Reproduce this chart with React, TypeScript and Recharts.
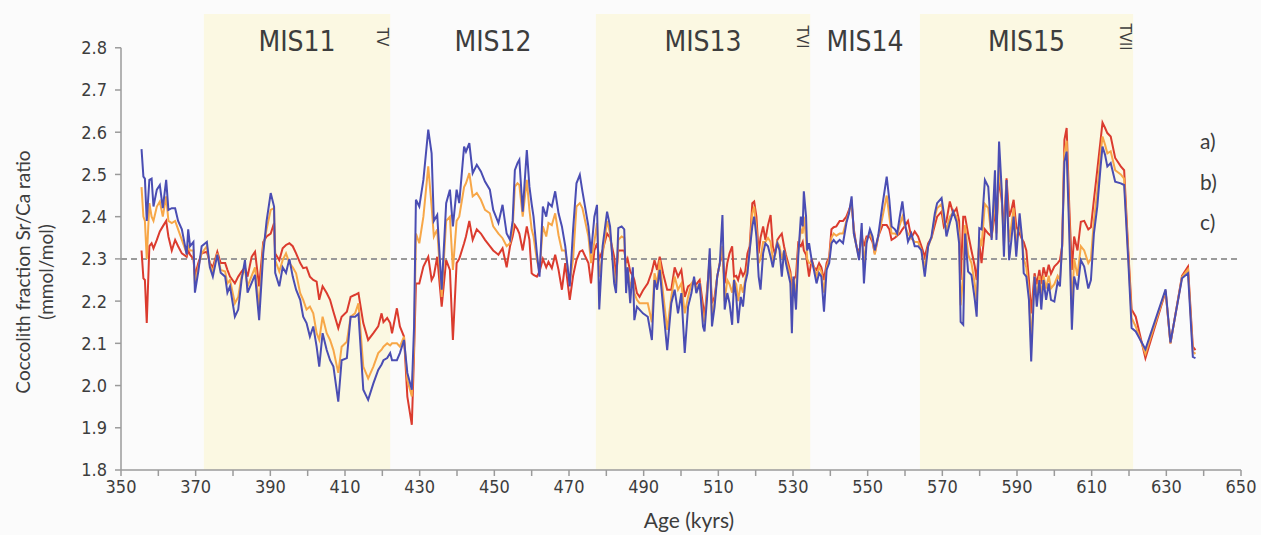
import React from 'react';
import { LineChart, Line, XAxis, YAxis, ReferenceArea, ReferenceLine } from 'recharts';

// Age (kyrs) of each sample
const ages = [
  355.5, 356.0, 356.4, 356.9, 357.6, 358.2, 358.7, 359.6, 360.4, 361.2, 362.1, 362.7, 363.6, 364.5, 365.3, 366.3, 367.6, 368.0, 368.5, 369.4,
  369.8, 370.7, 371.6, 373.0, 373.8, 374.6, 375.8, 376.7, 377.9, 378.5, 379.2, 380.5, 381.4, 382.3, 383.2, 383.9, 385.0, 385.9, 387.0, 388.1,
  389.0, 390.1, 391.0, 391.3, 392.4, 393.3, 394.2, 395.1, 396.0, 396.9, 398.0, 398.8, 399.7, 400.6, 401.5, 402.4, 403.1, 404.0, 405.1, 406.0,
  406.9, 408.2, 409.1, 410.5, 411.5, 412.7, 413.6, 414.9, 416.2, 417.6, 418.9, 419.8, 420.3, 421.3, 422.1, 422.6, 423.9, 424.7, 425.8, 426.7,
  427.9, 428.5, 429.0, 429.9, 431.0, 432.3, 433.2, 433.8, 434.7, 435.9, 437.1, 438.1, 438.9, 439.9, 440.6, 441.9, 442.4, 443.3, 444.2, 445.3,
  446.4, 447.5, 448.8, 449.7, 451.1, 452.2, 453.3, 454.2, 454.9, 455.5, 456.2, 456.7, 457.6, 458.7, 459.4, 460.0, 460.5, 461.4, 462.1, 463.0,
  463.9, 464.5, 465.4, 466.3, 467.2, 468.1, 469.0, 470.2, 471.1, 472.0, 472.9, 473.6, 475.2, 475.9, 476.8, 477.5, 478.1, 479.0, 480.2, 481.0,
  482.1, 482.6, 483.2, 484.1, 484.8, 485.3, 485.7, 486.4, 487.1, 487.5, 488.2, 488.9, 489.8, 491.1, 492.2, 492.9, 493.6, 494.3, 495.2, 496.3,
  497.4, 498.3, 499.2, 500.1, 501.0, 501.9, 502.8, 503.5, 504.1, 505.0, 505.9, 506.3, 507.0, 507.7, 508.3, 509.0, 509.7, 510.4, 511.1, 511.7,
  512.4, 513.0, 513.7, 514.2, 514.8, 515.3, 516.0, 516.6, 517.2, 517.8, 518.4, 519.1, 519.6, 520.2, 520.8, 521.3, 522.0, 522.6, 523.3, 524.0,
  524.6, 525.2, 525.8, 526.4, 527.0, 527.6, 528.1, 528.7, 529.3, 529.7, 530.1, 530.8, 531.4, 532.1, 532.6, 532.9, 533.5, 533.8, 534.3, 535.0,
  535.6, 536.3, 537.0, 537.6, 538.3, 539.0, 539.7, 540.3, 540.9, 541.6, 542.5, 543.4, 544.3, 545.0, 545.7, 546.3, 547.0, 547.7, 548.4, 549.0,
  549.7, 550.6, 551.3, 551.9, 552.8, 554.0, 555.1, 555.8, 556.4, 557.3, 557.9, 558.6, 559.3, 559.9, 560.8, 561.7, 562.6, 563.5, 564.4, 565.3,
  566.2, 567.1, 568.0, 568.6, 569.8, 570.4, 571.1, 572.0, 572.9, 573.8, 574.5, 574.9, 575.6, 576.1, 576.9, 577.8, 578.7, 579.2, 579.9, 580.5,
  581.4, 582.3, 583.2, 584.1, 584.5, 585.2, 585.9, 586.5, 587.2, 587.9, 588.5, 589.1, 589.8, 590.7, 591.4, 591.8, 592.5, 593.2, 593.8, 594.7,
  595.3, 596.0, 596.5, 597.1, 597.8, 598.5, 599.1, 600.0, 600.9, 601.5, 602.1, 602.7, 603.3, 604.0, 604.7, 605.3, 606.2, 607.1, 608.0, 609.1,
  609.8, 610.6, 611.5, 612.4, 612.9, 613.6, 614.2, 615.1, 616.3, 617.8, 618.7, 619.8, 620.7, 621.8, 624.4, 629.8, 631.1, 634.2, 635.8, 637.1,
  637.8,
];

// a) red series
const seriesA = [
  2.32, 2.254, 2.25, 2.148, 2.33, 2.337, 2.325, 2.345, 2.365, 2.377, 2.39, 2.353, 2.32, 2.345, 2.33, 2.313, 2.305, 2.32, 2.31, 2.3,
  2.26, 2.29, 2.313, 2.317, 2.29, 2.28, 2.317, 2.29, 2.29, 2.274, 2.258, 2.242, 2.258, 2.27, 2.28, 2.258, 2.305, 2.317, 2.235, 2.34,
  2.353, 2.36, 2.385, 2.313, 2.297, 2.325, 2.333, 2.337, 2.33, 2.313, 2.29, 2.278, 2.28, 2.258, 2.25, 2.246, 2.203, 2.235, 2.219, 2.203,
  2.175, 2.136, 2.163, 2.175, 2.21, 2.215, 2.219, 2.148, 2.108, 2.124, 2.14, 2.171, 2.15, 2.16, 2.148, 2.124, 2.183, 2.14, 2.116, 1.974,
  1.907, 2.077, 2.242, 2.242, 2.282, 2.305, 2.25, 2.26, 2.305, 2.187, 2.297, 2.274, 2.108, 2.29, 2.3, 2.337, 2.353, 2.39, 2.345, 2.37,
  2.36, 2.345, 2.33, 2.32, 2.31, 2.325, 2.28, 2.33, 2.353, 2.38, 2.37, 2.36, 2.32, 2.377, 2.345, 2.266, 2.262, 2.258, 2.27, 2.3,
  2.28, 2.293, 2.278, 2.31, 2.274, 2.227, 2.29, 2.203, 2.26, 2.297, 2.317, 2.32, 2.29, 2.242, 2.32, 2.337, 2.3, 2.32, 2.36, 2.35,
  2.305, 2.258, 2.32, 2.32, 2.32, 2.29, 2.3, 2.27, 2.26, 2.25, 2.219, 2.21, 2.225, 2.242, 2.27, 2.297, 2.274, 2.305, 2.266, 2.227,
  2.227, 2.28, 2.258, 2.274, 2.21, 2.235, 2.24, 2.242, 2.24, 2.25, 2.19, 2.163, 2.227, 2.297, 2.195, 2.21, 2.258, 2.29, 2.313, 2.242,
  2.29, 2.313, 2.33, 2.258, 2.26, 2.25, 2.274, 2.26, 2.27, 2.313, 2.33, 2.432, 2.436, 2.4, 2.313, 2.35, 2.377, 2.345, 2.38, 2.404,
  2.33, 2.31, 2.345, 2.353, 2.36, 2.33, 2.31, 2.29, 2.27, 2.235, 2.25, 2.26, 2.337, 2.33, 2.34, 2.32, 2.31, 2.29, 2.258, 2.3,
  2.28, 2.274, 2.29, 2.28, 2.25, 2.29, 2.305, 2.37, 2.375, 2.377, 2.39, 2.39, 2.4, 2.416, 2.432, 2.37, 2.33, 2.313, 2.353, 2.33,
  2.353, 2.353, 2.34, 2.313, 2.353, 2.38, 2.38, 2.37, 2.345, 2.35, 2.355, 2.36, 2.37, 2.377, 2.39, 2.35, 2.365, 2.353, 2.33, 2.305,
  2.337, 2.35, 2.38, 2.4, 2.412, 2.377, 2.39, 2.436, 2.408, 2.42, 2.39, 2.25, 2.4, 2.4, 2.36, 2.32, 2.282, 2.25, 2.337, 2.29,
  2.37, 2.36, 2.353, 2.408, 2.38, 2.491, 2.44, 2.37, 2.491, 2.4, 2.416, 2.44, 2.377, 2.36, 2.345, 2.34, 2.32, 2.25, 2.171, 2.266,
  2.24, 2.274, 2.24, 2.28, 2.258, 2.286, 2.265, 2.282, 2.29, 2.297, 2.33, 2.582, 2.61, 2.424, 2.274, 2.353, 2.32, 2.388, 2.39, 2.37,
  2.375, 2.44, 2.51, 2.582, 2.623, 2.61, 2.598, 2.59, 2.539, 2.519, 2.51, 2.32, 2.18, 2.163, 2.065, 2.223, 2.1, 2.26, 2.282, 2.092,
  2.084,
];

// b) orange series
const seriesB = [
  2.47, 2.4, 2.39, 2.3, 2.432, 2.4, 2.39, 2.424, 2.436, 2.4, 2.448, 2.39, 2.385, 2.39, 2.37, 2.345, 2.313, 2.33, 2.32, 2.32,
  2.24, 2.28, 2.313, 2.33, 2.285, 2.27, 2.313, 2.274, 2.27, 2.242, 2.25, 2.195, 2.21, 2.26, 2.274, 2.235, 2.26, 2.28, 2.187, 2.33,
  2.37, 2.416, 2.42, 2.297, 2.27, 2.297, 2.313, 2.29, 2.28, 2.266, 2.219, 2.203, 2.18, 2.187, 2.171, 2.124, 2.108, 2.163, 2.124, 2.108,
  2.084, 2.03, 2.092, 2.104, 2.163, 2.171, 2.195, 2.045, 2.017, 2.045, 2.077, 2.085, 2.092, 2.1, 2.095, 2.1, 2.1, 2.092, 2.116, 2.013,
  1.974, 2.092, 2.36, 2.337, 2.4, 2.519, 2.424, 2.353, 2.37, 2.21, 2.39, 2.4, 2.274, 2.39, 2.4, 2.47, 2.479, 2.503, 2.448, 2.456,
  2.44, 2.416, 2.408, 2.377, 2.36, 2.349, 2.33, 2.337, 2.37, 2.471, 2.479, 2.475, 2.4, 2.487, 2.416, 2.37, 2.353, 2.297, 2.27, 2.377,
  2.353, 2.385, 2.38, 2.408, 2.356, 2.32, 2.32, 2.242, 2.3, 2.424, 2.432, 2.42, 2.353, 2.29, 2.34, 2.385, 2.258, 2.31, 2.39, 2.36,
  2.266, 2.23, 2.345, 2.353, 2.35, 2.26, 2.28, 2.235, 2.25, 2.219, 2.203, 2.195, 2.195, 2.195, 2.15, 2.266, 2.24, 2.297, 2.219, 2.132,
  2.21, 2.258, 2.227, 2.242, 2.171, 2.21, 2.242, 2.25, 2.23, 2.24, 2.163, 2.15, 2.22, 2.31, 2.163, 2.2, 2.258, 2.29, 2.33, 2.2,
  2.25, 2.24, 2.22, 2.25, 2.24, 2.2, 2.24, 2.22, 2.25, 2.28, 2.32, 2.408, 2.424, 2.37, 2.29, 2.3, 2.34, 2.34, 2.35, 2.34,
  2.3, 2.31, 2.34, 2.33, 2.3, 2.32, 2.3, 2.28, 2.26, 2.19, 2.25, 2.22, 2.32, 2.37, 2.36, 2.4, 2.35, 2.3, 2.29, 2.29,
  2.28, 2.26, 2.28, 2.27, 2.22, 2.28, 2.3, 2.35, 2.36, 2.355, 2.36, 2.36, 2.39, 2.41, 2.44, 2.36, 2.33, 2.3, 2.37, 2.29,
  2.345, 2.36, 2.345, 2.31, 2.35, 2.4, 2.45, 2.4, 2.36, 2.36, 2.355, 2.38, 2.4, 2.38, 2.36, 2.35, 2.34, 2.34, 2.32, 2.28,
  2.33, 2.35, 2.4, 2.42, 2.43, 2.39, 2.37, 2.4, 2.41, 2.4, 2.36, 2.19, 2.26, 2.38, 2.31, 2.29, 2.24, 2.2, 2.35, 2.33,
  2.43, 2.42, 2.35, 2.45, 2.36, 2.52, 2.45, 2.33, 2.48, 2.34, 2.38, 2.42, 2.34, 2.38, 2.345, 2.3, 2.28, 2.22, 2.1, 2.26,
  2.21, 2.26, 2.21, 2.26, 2.23, 2.26, 2.23, 2.24, 2.26, 2.25, 2.33, 2.55, 2.58, 2.39, 2.18, 2.3, 2.26, 2.33, 2.32, 2.29,
  2.3, 2.39, 2.46, 2.55, 2.59, 2.57, 2.55, 2.555, 2.51, 2.5, 2.49, 2.31, 2.16, 2.14, 2.075, 2.225, 2.1, 2.257, 2.275, 2.08,
  2.075,
];

// c) blue series
const seriesC = [
  2.56, 2.495, 2.49, 2.39, 2.487, 2.49, 2.424, 2.464, 2.475, 2.42, 2.487, 2.416, 2.42, 2.42, 2.39, 2.37, 2.31, 2.37, 2.33, 2.34,
  2.22, 2.27, 2.33, 2.34, 2.28, 2.258, 2.31, 2.267, 2.258, 2.22, 2.235, 2.163, 2.18, 2.25, 2.297, 2.22, 2.243, 2.262, 2.155, 2.313,
  2.39, 2.456, 2.424, 2.267, 2.235, 2.28, 2.267, 2.3, 2.258, 2.227, 2.203, 2.163, 2.148, 2.116, 2.14, 2.092, 2.045, 2.124, 2.084, 2.06,
  2.045, 1.962, 2.06, 2.065, 2.163, 2.163, 2.17, 1.99, 1.966, 2.005, 2.037, 2.05, 2.06, 2.065, 2.077, 2.06, 2.06, 2.077, 2.108, 2.03,
  1.99, 2.14, 2.44, 2.424, 2.487, 2.606, 2.55, 2.39, 2.404, 2.227, 2.432, 2.464, 2.377, 2.464, 2.432, 2.566, 2.554, 2.574, 2.503, 2.523,
  2.507, 2.483, 2.464, 2.416, 2.385, 2.428, 2.36, 2.345, 2.39, 2.51, 2.527, 2.535, 2.412, 2.558, 2.471, 2.43, 2.4, 2.313, 2.258, 2.424,
  2.4, 2.432, 2.424, 2.46, 2.408, 2.377, 2.33, 2.235, 2.37, 2.479, 2.499, 2.46, 2.377, 2.313, 2.4, 2.428, 2.18, 2.33, 2.412, 2.377,
  2.242, 2.219, 2.373, 2.377, 2.37, 2.219, 2.28, 2.195, 2.28, 2.155, 2.187, 2.18, 2.171, 2.163, 2.108, 2.25, 2.227, 2.274, 2.187, 2.084,
  2.195, 2.227, 2.171, 2.219, 2.077, 2.187, 2.219, 2.258, 2.219, 2.242, 2.14, 2.128, 2.21, 2.325, 2.14, 2.187, 2.258, 2.29, 2.404, 2.18,
  2.219, 2.195, 2.144, 2.25, 2.21, 2.148, 2.21, 2.187, 2.242, 2.266, 2.32, 2.377, 2.4, 2.353, 2.258, 2.227, 2.313, 2.337, 2.33, 2.305,
  2.28, 2.313, 2.337, 2.32, 2.258, 2.32, 2.29, 2.266, 2.242, 2.124, 2.258, 2.18, 2.305, 2.4, 2.377, 2.46, 2.4, 2.32, 2.337, 2.297,
  2.274, 2.242, 2.266, 2.258, 2.175, 2.274, 2.29, 2.337, 2.345, 2.337, 2.345, 2.337, 2.385, 2.408, 2.448, 2.36, 2.33, 2.297, 2.385, 2.242,
  2.337, 2.37, 2.353, 2.32, 2.353, 2.43, 2.495, 2.44, 2.377, 2.37, 2.36, 2.4, 2.436, 2.39, 2.341, 2.36, 2.33, 2.33, 2.32, 2.258,
  2.33, 2.353, 2.408, 2.432, 2.444, 2.408, 2.353, 2.385, 2.412, 2.388, 2.337, 2.151, 2.144, 2.36, 2.27, 2.262, 2.203, 2.163, 2.373, 2.37,
  2.487, 2.471, 2.345, 2.51, 2.345, 2.578, 2.464, 2.305, 2.487, 2.297, 2.345, 2.4, 2.305, 2.408, 2.345, 2.266, 2.258, 2.203, 2.057, 2.258,
  2.187, 2.25, 2.18, 2.25, 2.203, 2.242, 2.203, 2.199, 2.246, 2.235, 2.337, 2.53, 2.554, 2.36, 2.132, 2.258, 2.227, 2.297, 2.282, 2.23,
  2.25, 2.36, 2.424, 2.519, 2.566, 2.546, 2.519, 2.527, 2.483, 2.479, 2.475, 2.297, 2.136, 2.128, 2.086, 2.228, 2.102, 2.254, 2.266, 2.068,
  2.065,
];

// Marine isotope stages
const stageNames = ['MIS11', 'MIS12', 'MIS13', 'MIS14', 'MIS15'];
const stageStarts = [372.2, 422.1, 477.2, 534.6, 564.0];
const stageEnds = [422.1, 477.2, 534.6, 564.0, 621.1];
const stageShaded = [true, false, true, false, true];
const terminations = ['TV', '', 'TVI', '', 'TVII'];

const xTicks = [350, 360, 370, 380, 390, 400, 410, 420, 430, 440, 450, 460, 470, 480, 490, 500, 510, 520, 530, 540, 550, 560, 570, 580, 590, 600, 610, 620, 630, 640, 650];
const yTicks = [1.8, 1.9, 2.0, 2.1, 2.2, 2.3, 2.4, 2.5, 2.6, 2.7, 2.8];
const referenceValue = 2.3;
const seriesLabels = ['a)', 'b)', 'c)'];

const data = ages.map((age, i) => ({ age, a: seriesA[i], b: seriesB[i], c: seriesC[i] }));

const TEXT = '#3d3d3d';
const AXIS = '#9b9b9b';
const NARROW = '"Liberation Sans Narrow", "DejaVu Sans Condensed", "Roboto", sans-serif';
const SANS = 'Lato, "Liberation Sans", sans-serif';

const StageLabel = (props: any) => {
  const { viewBox, name, term } = props;
  if (!viewBox) return null;
  const { x, y, width } = viewBox;
  return (
    <g>
      <text x={x + width / 2} y={y + 37} textAnchor="middle" fontFamily={NARROW} fontSize={28} fill={TEXT}>
        {name}
      </text>
      {term ? (
        <text
          transform={`translate(${x + width - 8},${y + 23}) rotate(90)`}
          textAnchor="middle"
          dominantBaseline="central"
          fontFamily={NARROW}
          fontSize={16}
          fill={TEXT}
        >
          {term}
        </text>
      ) : null}
    </g>
  );
};

const YTitle = () => (
  <g>
    <text transform="translate(22,272) rotate(-90)" textAnchor="middle" dominantBaseline="central" fontFamily={SANS} fontSize={19} fill={TEXT}>
      Coccolith fraction Sr/Ca ratio
    </text>
    <text transform="translate(45,272) rotate(-90)" textAnchor="middle" dominantBaseline="central" fontFamily={SANS} fontSize={19} fill={TEXT}>
      (mmol/mol)
    </text>
  </g>
);

const XTitle = (props: any) => {
  const { viewBox } = props;
  if (!viewBox) return null;
  return (
    <text x={689} y={viewBox.y + 58} textAnchor="middle" fontFamily={SANS} fontSize={21} fill={TEXT}>
      Age (kyrs)
    </text>
  );
};

export default function App() {
  return (
    <div style={{ position: 'absolute', left: 0, top: 0, width: 1261, height: 535, background: '#fbfbfb' }}>
      <LineChart width={1261} height={535} data={data} margin={{ top: 14, right: 20, bottom: 0, left: 61 }}>
        {stageNames.map((name, i) => (
          <ReferenceArea
            key={name}
            x1={stageStarts[i]}
            x2={stageEnds[i]}
            y1={1.8}
            y2={2.88}
            fill={stageShaded[i] ? '#fbf8e2' : '#ffffff'}
            fillOpacity={stageShaded[i] ? 1 : 0}
            stroke="none"
            label={<StageLabel name={name} term={terminations[i]} />}
          />
        ))}
        <XAxis
          type="number"
          dataKey="age"
          domain={[350, 650]}
          ticks={xTicks}
          interval={0}
          allowDataOverflow
          height={65}
          stroke={AXIS}
          strokeWidth={1.5}
          tickSize={6}
          tickMargin={4}
          tick={{ fill: TEXT, fontSize: 18, fontFamily: NARROW }}
          tickFormatter={(v: number) => ((v - 350) % 20 === 0 ? String(v) : '')}
          label={<XTitle />}
        />
        <YAxis
          type="number"
          domain={[1.8, 2.88]}
          ticks={yTicks}
          interval={0}
          allowDataOverflow
          width={60}
          axisLine={false}
          tickLine={{ stroke: AXIS, strokeWidth: 1.5 }}
          tickSize={6}
          tickMargin={8}
          tick={{ fill: TEXT, fontSize: 18, fontFamily: NARROW }}
          tickFormatter={(v: number) => v.toFixed(1)}
          label={<YTitle />}
        />
        <ReferenceLine segment={[{ x: 350, y: 1.8 }, { x: 350, y: 2.8 }]} stroke={AXIS} strokeWidth={1.5} />
        <ReferenceLine y={referenceValue} stroke="#9a9a9a" strokeWidth={2} strokeDasharray="6 4" />
        <Line type="linear" dataKey="a" stroke="#db3b2e" strokeWidth={2} dot={false} isAnimationActive={false} />
        <Line type="linear" dataKey="b" stroke="#f7a748" strokeWidth={2} dot={false} isAnimationActive={false} />
        <Line type="linear" dataKey="c" stroke="#4a4db3" strokeWidth={2} dot={false} isAnimationActive={false} />
      </LineChart>
      {seriesLabels.map((t, i) => (
        <div
          key={t}
          style={{
            position: 'absolute',
            left: 1200,
            top: 129 + i * 40.5,
            fontFamily: SANS,
            fontSize: 21,
            lineHeight: '24px',
            color: TEXT,
          }}
        >
          {t}
        </div>
      ))}
    </div>
  );
}
